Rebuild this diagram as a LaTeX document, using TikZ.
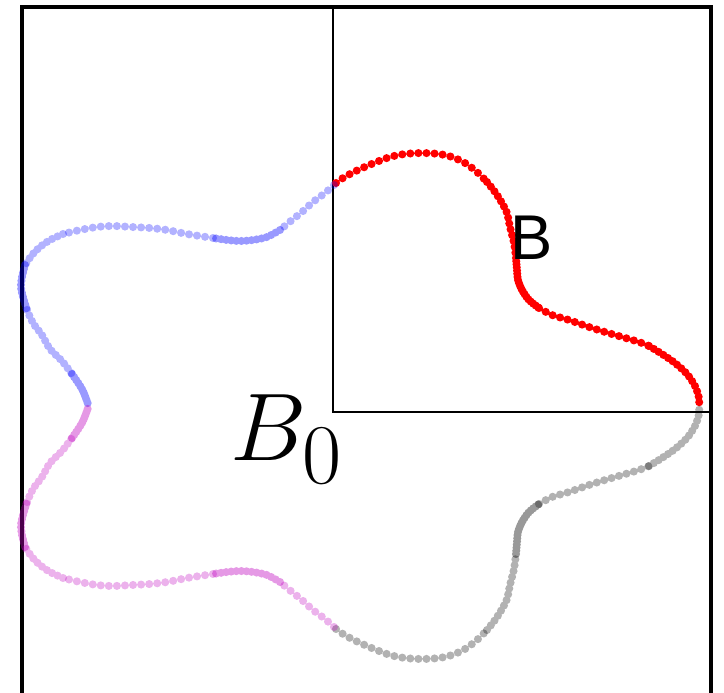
\documentclass[tikz,border=0pt]{standalone}
\usepackage{fontspec}
\usepackage{tikz}
\newfontfamily\labelfont{Liberation Sans}
\definecolor{dotviolet}{rgb}{0.75,0,0.75}

\tikzset{
  dotrow/.style 2 args={#1,line width=4.6pt,line cap=round,dash pattern=on 0pt off #2},
  reddot/.style={draw=red},
  bluedot/.style={draw=blue,draw opacity=0.3},
  bluedense/.style={draw=blue,draw opacity=0.4},
  violetdot/.style={draw=dotviolet,draw opacity=0.3},
  violetdense/.style={draw=dotviolet,draw opacity=0.4},
  greydot/.style={draw=black,draw opacity=0.3},
  greydense/.style={draw=black,draw opacity=0.4},
  frame/.style={line width=1.9pt},
  subframe/.style={line width=1.2pt},
}

% right quarter of the boundary (upper half, pixel coordinates)
\newcommand{\rightquarter}[2]{%
  \draw[dotrow={#1}{4.6pt}] plot[smooth] coordinates {(336,183) (343,178) (350,174) (358,170) (374,163) (390,157) (405,154) (422,153) (439,154) (452,157) (465,163) (477,172) (487,182)};
  \draw[dotrow={#1}{3.4pt}] plot[smooth] coordinates {(487,182) (495,192) (502,203) (507,213) (510,227) (514,243) (516,258)};
  \draw[dotrow={#2}{1.8pt}] plot[smooth] coordinates {(516,258) (517,270) (518,280) (522,290) (529,300) (539,308)};
  \draw[dotrow={#1}{4.4pt}] plot[smooth] coordinates {(539,308) (552,315) (569,320) (589,327) (605,332) (622,337) (639,342) (649,346)};
  \draw[dotrow={#1}{3.2pt}] plot[smooth] coordinates {(649,346) (662,354) (675,363) (687,374) (695,386) (699,398) (699,406)};
}
% left quarter of the boundary
\newcommand{\leftquarter}[2]{%
  \draw[dotrow={#1}{4.6pt}] plot[smooth] coordinates {(334,185) (325,193) (313,202) (302,212) (292,220) (280,230)};
  \draw[dotrow={#2}{2.9pt}] plot[smooth] coordinates {(280,230) (267,237) (253,240) (240,241) (227,240) (213,238)};
  \draw[dotrow={#1}{4.6pt}] plot[smooth] coordinates {(213,238) (187,234) (167,230) (150,228) (132,227) (113,226) (97,227) (80,230) (63,234)};
  \draw[dotrow={#1}{3.4pt}] plot[smooth] coordinates {(63,234) (50,240) (40,247) (32,255) (25,265)};
  \draw[dotrow={#2}{2.3pt}] plot[smooth] coordinates {(25,265) (22,277) (21,287) (23,297) (27,310)};
  \draw[dotrow={#1}{3.4pt}] plot[smooth] coordinates {(27,310) (33,323) (42,335) (50,349) (62,361) (72,374)};
  \draw[dotrow={#2}{2.1pt}] plot[smooth] coordinates {(72,374) (82,389) (88,404) (88,406)};
}

\begin{document}
\begin{tikzpicture}[x=0.02cm,y=-0.02cm]
  \useasboundingbox (0,0) rectangle (724,693);
  % frames
  \draw[frame] (22,7) rectangle (711,740);
  \draw[subframe] (333,7) rectangle (711,412);
  % upper half
  \rightquarter{reddot}{reddot}
  \leftquarter{bluedot}{bluedense}
  % lower half, mirrored about y=406
  \begin{scope}[shift={(0,812)},yscale=-1]
    \rightquarter{greydot}{greydense}
    \leftquarter{violetdot}{violetdense}
  \end{scope}
  % labels
  \node[font=\labelfont\fontsize{36}{36}\selectfont,inner sep=0pt] (blabel) at (532,238) {B};
  \node[scale=2.2,font=\Huge,inner sep=0pt] (bzero) at (287,440) {$B_{\hbox{\fontsize{22}{22}\selectfont 0}}$};
\end{tikzpicture}
\end{document}
